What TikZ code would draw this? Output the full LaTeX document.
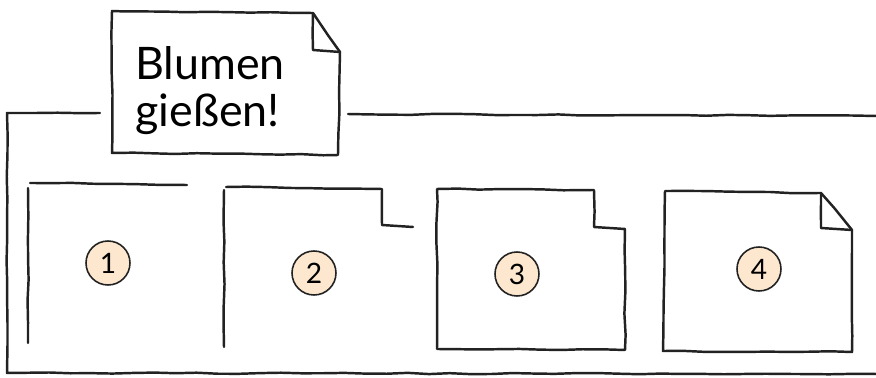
\documentclass[tikz,border=0pt]{standalone}
\usepackage{fontspec}
\setmainfont{Lato}
\usetikzlibrary{decorations.pathmorphing}
\definecolor{pen}{HTML}{222222}
\definecolor{dot}{HTML}{FDE8CF}
\tikzset{
  ink/.style={draw=pen, line width=1.4pt, line join=round, line cap=round,
    decorate, decoration={random steps, segment length=12pt, amplitude=0.35pt}},
  num/.style={circle, draw=pen, fill=dot, line width=0.9pt, minimum size=8.8mm, inner sep=0pt,
    font=\fontsize{16}{16}\selectfont}}

\begin{document}
\begin{tikzpicture}[x=0.02cm, y=-0.02cm]
\pgfmathsetseed{7}
\useasboundingbox (0,0) rectangle (876,378);
% outer frame, open where the note sits
\draw[ink] (100,113) -- (7,113) -- (7,373) -- (876,374);
\draw[ink] (348,114) -- (876,116);
% note with folded corner
\draw[ink] (313,13) -- (112,11) -- (112,153) -- (338,155) -- (340,52) -- (313,13);
\draw[ink] (313,13) -- (313,50) -- (340,52);
\node[anchor=north west, align=left, inner sep=0pt, font=\fontsize{25.5}{27}\selectfont] (note) at (135,46) {Blumen\\gießen!};
% panel 1: only two edges
\draw[ink] (28,343) -- (28,188);
\draw[ink] (30,183) -- (187,185);
% panel 2: notch begun
\draw[ink] (224,347) -- (224,190);
\draw[ink] (226,187) -- (382,189) -- (382,225) -- (413,227);
% panel 3: closed, corner cut
\draw[ink] (437,189) -- (594,190) -- (594,227) -- (625,229) -- (625,350) -- (437,349) -- (437,189);
% panel 4: corner folded
\draw[ink] (665,191) -- (821,193) -- (852,230) -- (852,352) -- (663,351) -- (665,191);
\draw[ink] (821,193) -- (821,228) -- (852,230);
\node[num] (n1) at (108,263) {1};
\node[num] (n2) at (314,273) {2};
\node[num] (n3) at (517,274) {3};
\node[num] (n4) at (759,269) {4};
\end{tikzpicture}
\end{document}
